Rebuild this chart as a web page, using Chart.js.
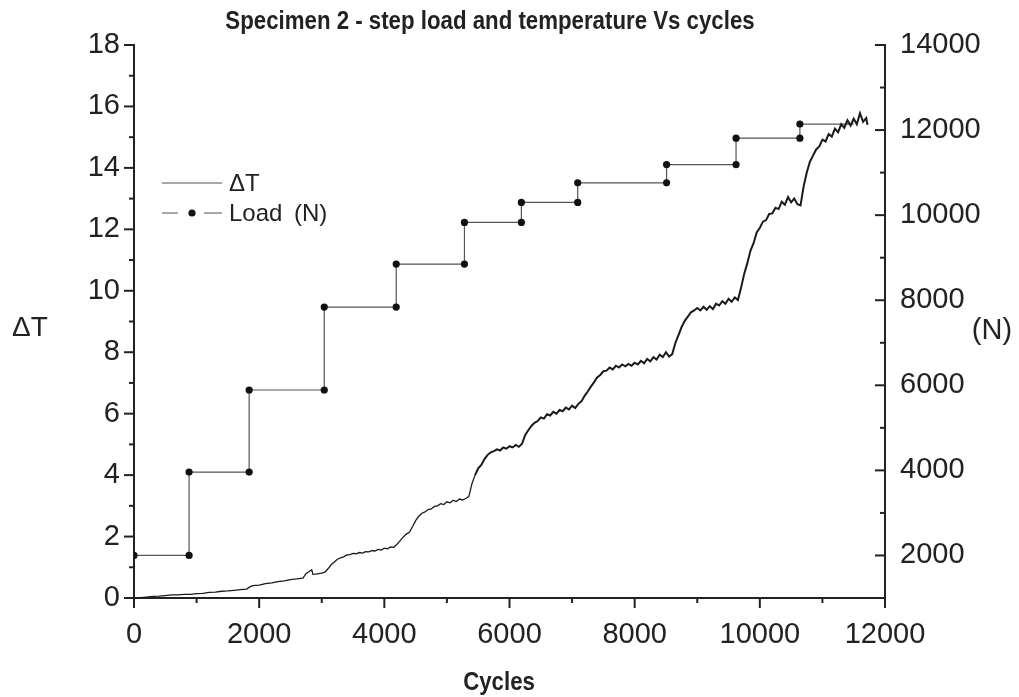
<!DOCTYPE html>
<html>
<head>
<meta charset="utf-8">
<script src="https://cdn.jsdelivr.net/npm/chart.js@4.4.0/dist/chart.umd.min.js"></script>
<style>
html,body{margin:0;padding:0;background:#fff;}
</style>
</head>
<body>
<canvas id="stepChart" width="1019" height="697"></canvas>
<script>
"use strict"
//step load + temperature rise vs cycles, two y axes

//tick labels
var cycleTicks = [0, 2000, 4000, 6000, 8000, 10000, 12000];
var deltaTicks = [0, 2, 4, 6, 8, 10, 12, 14, 16, 18];
var loadTicks = [2000, 4000, 6000, 8000, 10000, 12000, 14000];

//load steps (corners of each step)
var loadCycles = [0, 880, 880, 1840, 1840, 3040, 3040, 4190, 4190, 5280, 5280, 6190, 6190, 7090, 7090, 8510, 8510, 9620, 9620, 10640, 10640, 11500];
var loadValues = [2000, 2000, 3960, 3960, 5890, 5890, 7840, 7840, 8850, 8850, 9830, 9830, 10300, 10300, 10760, 10760, 11190, 11190, 11810, 11810, 12140, 12140];

//temperature rise
var tempCycles = [0,100,200,300,400,500,600,700,800,900,1000,1100,1200,1300,1400,1500,1600,1700,1800,1850,1900,2000,2100,2200,2300,2400,2500,2600,2700,2750,2800,2840,2860,2900,3000,3050,
  3100,3150,3200,3250,3300,3350,3400,3450,3500,3550,3600,3650,3700,3750,3800,3850,3900,3950,4000,4050,4100,4150,4200,4250,4300,4350,4400,4450,4500,4550,4600,4650,4700,4750,4800,4850,4900,4950,
  5000,5050,5100,5150,5200,5250,5300,5350,5400,5450,5500,5550,5600,5650,5700,5750,5800,5850,5900,5950,6000,6050,6100,6150,6200,6250,6300,6350,6400,6450,6500,6550,6600,6650,6700,6750,6800,6850,6900,6950,
  7000,7050,7100,7150,7200,7250,7300,7350,7400,7450,7500,7550,7600,7650,7700,7750,7800,7850,7900,7950,8000,8050,8100,8150,8200,8250,8300,8350,8400,8450,8500,8550,8600,8650,8700,8750,8800,8850,8900,8950,
  9000,9050,9100,9150,9200,9250,9300,9350,9400,9450,9500,9550,9600,9650,9700,9750,9800,9850,9900,9950,10000,10050,10100,10150,10200,10250,10300,10350,10400,10450,10500,10550,10600,10650,10700,10750,10800,10850,10900,10950,
  11000,11050,11100,11150,11200,11250,11300,11350,11400,11450,11500,11550,11600,11650,11700,11720];
var tempDelta = [0,0.01,0.03,0.05,0.06,0.08,0.10,0.10,0.12,0.12,0.14,0.15,0.18,0.19,0.22,0.23,0.25,0.27,0.29,0.36,0.40,0.42,0.47,0.49,0.53,0.56,0.60,0.62,0.65,0.80,0.86,0.92,0.77,0.78,0.81,0.84,
  0.95,1.08,1.17,1.26,1.31,1.34,1.40,1.41,1.45,1.44,1.48,1.46,1.51,1.50,1.54,1.53,1.58,1.56,1.62,1.60,1.66,1.65,1.74,1.86,1.98,2.08,2.14,2.32,2.52,2.66,2.76,2.80,2.88,2.90,2.98,3.00,3.07,3.04,
  3.13,3.10,3.18,3.14,3.22,3.19,3.24,3.30,3.72,4.00,4.22,4.33,4.52,4.66,4.74,4.78,4.84,4.80,4.90,4.86,4.94,4.90,4.98,4.92,5.02,5.30,5.46,5.60,5.70,5.76,5.88,5.84,5.98,5.94,6.06,6.00,6.12,6.08,6.20,6.14,
  6.26,6.18,6.32,6.40,6.58,6.72,6.88,7.02,7.18,7.26,7.38,7.40,7.50,7.44,7.56,7.50,7.60,7.54,7.62,7.56,7.66,7.60,7.72,7.64,7.78,7.70,7.84,7.76,7.92,7.84,8.00,7.86,7.94,8.30,8.56,8.82,9.02,9.16,9.30,9.36,
  9.44,9.36,9.48,9.38,9.50,9.40,9.58,9.52,9.66,9.58,9.74,9.64,9.78,9.70,10.10,10.55,10.90,11.30,11.55,11.90,12.05,12.25,12.30,12.50,12.52,12.70,12.66,12.90,12.80,13.05,12.88,13.00,12.82,12.78,13.40,13.85,14.20,14.40,14.60,14.70,
  14.92,14.86,15.10,15.02,15.28,15.16,15.42,15.30,15.55,15.38,15.60,15.42,15.78,15.50,15.62,15.40];

var loadPoints = loadCycles.map(function(c, i) { return {x: c, y: loadValues[i]}; });
var tempPoints = tempCycles.map(function(c, i) { return {x: c, y: tempDelta[i]}; });
var loadRadius = loadCycles.map(function(c, i) { return i === loadCycles.length - 1 ? 0 : 3.6; });

var ink = "#222";
var tickFont = {family: "'Liberation Sans', Arial, sans-serif", size: 29};
function plainLabel(v) { return String(v); }//no thousands separator

//tick marks: majors long, minors short; edge = where the axis line sits
var tickMarks = {
  id: "tickMarks",
  afterDraw: function(chart) {
    var ctx = chart.ctx;
    ctx.save();
    ctx.strokeStyle = ink;
    ctx.lineWidth = 2;
    function marks(scale, ticks, edge, dir, horiz) {
      for (var i = 0; i < ticks.length; i++) {
        var vals = [[ticks[i], 10]];
        if (i < ticks.length - 1) vals.push([(ticks[i] + ticks[i + 1]) / 2, 5]);
        vals.forEach(function(v) {
          var p = scale.getPixelForValue(v[0]);
          ctx.beginPath();
          if (horiz) { ctx.moveTo(p, edge); ctx.lineTo(p, edge + dir * v[1]); }
          else { ctx.moveTo(edge, p); ctx.lineTo(edge + dir * v[1], p); }
          ctx.stroke();
        });
      }
    }
    var area = chart.chartArea;
    marks(chart.scales.x, cycleTicks, area.bottom, 1, true);
    marks(chart.scales.y, deltaTicks, area.left, -1, false);
    marks(chart.scales.y1, loadTicks, area.right, -1, false);

    //titles (condensed bold like the original)
    ctx.fillStyle = ink;
    ctx.textBaseline = "middle";
    ctx.textAlign = "center";
    ctx.font = "bold 25px 'Liberation Sans', Arial, sans-serif";
    ctx.save(); ctx.translate(490, 22); ctx.scale(0.89, 1); ctx.fillText("Specimen 2 - step load and temperature Vs cycles", 0, 0); ctx.restore();
    ctx.save(); ctx.translate(499, 683); ctx.scale(0.89, 1); ctx.fillText("Cycles", 0, 0); ctx.restore();
    ctx.font = "28px 'Liberation Sans', Arial, sans-serif";
    ctx.fillText("\u0394T", 30, 328);
    ctx.font = "29px 'Liberation Sans', Arial, sans-serif";
    ctx.fillText("(N)", 992, 331);

    //legend
    ctx.strokeStyle = "#555";
    ctx.lineWidth = 1.2;
    ctx.beginPath(); ctx.moveTo(162, 183); ctx.lineTo(222, 183); ctx.stroke();
    ctx.beginPath(); ctx.moveTo(162, 213); ctx.lineTo(178, 213); ctx.moveTo(204, 213); ctx.lineTo(222, 213); ctx.stroke();
    ctx.fillStyle = "#111";
    ctx.beginPath(); ctx.arc(192, 213, 3.6, 0, Math.PI * 2); ctx.fill();
    ctx.fillStyle = ink;
    ctx.textAlign = "left";
    ctx.font = "24px 'Liberation Sans', Arial, sans-serif";
    ctx.fillText("\u0394T", 229, 184);
    ctx.fillText("Load", 229, 214);
    ctx.fillText("(N)", 294, 214);
    ctx.restore();
  }
};

var stepC = document.getElementById("stepChart");
var stepChart = new Chart(stepC, {
  type: "line",
  data: {
    datasets: [
      {//temperature trace, noise band gets thicker later on
        label: "\u0394T",
        data: tempPoints,
        yAxisID: "y",
        borderColor: "#1a1a1a",
        borderWidth: 1.4,
        segment: {
          borderWidth: function(c) { return c.p0.parsed.x > 5400 ? 2 : 1.3; }
        },
        pointRadius: 0,
        tension: 0
      },
      {//step load
        label: "Load (N)",
        data: loadPoints,
        yAxisID: "y1",
        borderColor: "#555",
        borderWidth: 1.2,
        pointRadius: loadRadius,
        pointBackgroundColor: "#111",
        pointBorderWidth: 0,
        tension: 0
      }
    ]
  },
  options: {
    responsive: false,
    animation: false,
    layout: {padding: {top: 45, left: 0, right: 0, bottom: 0}},
    plugins: {legend: {display: false}, tooltip: {enabled: false}, title: {display: false}},
    scales: {
      x: {
        type: "linear",
        min: 0, max: 12000,
        afterBuildTicks: function(s) { s.ticks = cycleTicks.map(function(v) { return {value: v}; }); },
        afterFit: function(s) { s.height = 99; },
        grid: {display: false, drawTicks: false},
        border: {display: true, color: ink, width: 2},
        ticks: {color: ink, font: tickFont, padding: 20, maxRotation: 0, callback: plainLabel}
      },
      y: {
        position: "left",
        min: 0, max: 18,
        afterBuildTicks: function(s) { s.ticks = deltaTicks.map(function(v) { return {value: v}; }); },
        afterFit: function(s) { s.width = 134; },
        grid: {display: false, drawTicks: false},
        border: {display: true, color: ink, width: 2},
        ticks: {color: ink, font: tickFont, padding: 14, callback: plainLabel}
      },
      y1: {
        position: "right",
        min: 1000, max: 14000,
        afterBuildTicks: function(s) { s.ticks = loadTicks.map(function(v) { return {value: v}; }); },
        afterFit: function(s) { s.width = 134; },
        grid: {display: false, drawTicks: false},
        border: {display: true, color: ink, width: 2},
        ticks: {color: ink, font: tickFont, padding: 15, callback: plainLabel}
      }
    }
  },
  plugins: [tickMarks]
});
</script>
</body>
</html>
